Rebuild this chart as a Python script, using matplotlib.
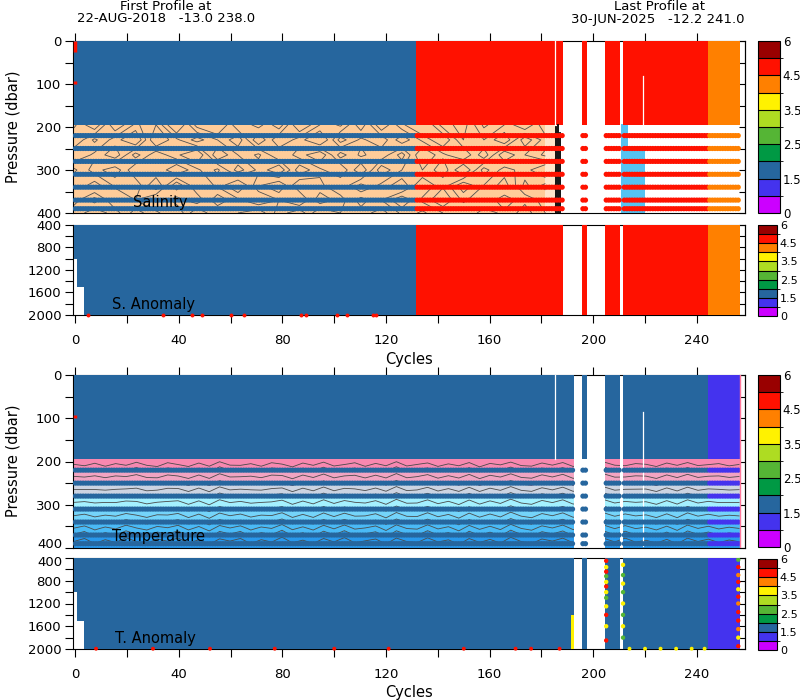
import numpy as np
import matplotlib
matplotlib.use('Agg')
import matplotlib.pyplot as plt
from matplotlib.colors import ListedColormap, BoundaryNorm
from matplotlib.ticker import MultipleLocator, FuncFormatter
import matplotlib.colorbar as mcolorbar

plt.rcParams['font.family'] = ['DejaVu Sans']

W, H = 800, 700

# ------------------------------------------------------------------ data
n_cycles = 257
flag_colors = ['#CC00FF', '#4433EE', '#26669E', '#009944', '#55B535',
               '#AEDC22', '#FFF200', '#FF8000', '#FF1100', '#990000']
flag_tick_pos = [0, 2, 4, 6, 8, 10]
flag_tick_labels = ['0', '1.5', '2.5', '3.5', '4.5', '6']

sal_flag_starts = [0, 132, 245]
sal_flag_codes = [2, 8, 7]
temp_flag_starts = [0, 245]
temp_flag_codes = [2, 1]
sal_gap_first = [189, 198, 211]
sal_gap_last = [195, 204, 211]
temp_gap_first = [193, 198, 211]
temp_gap_last = [195, 204, 211]

anom_limit_first_cycle = [0, 1, 4]
anom_limit_depth = [1000, 1500, 2000]

dense_bottom = 195
std_levels = [220, 250, 280, 310, 340, 370, 390]

# cycle-0 bad points (depth ranges)
sal_c0_bad_top = [0, 93]
sal_c0_bad_bot = [25, 100]
temp_c0_bad_top = [93]
temp_c0_bad_bot = [100]

# thin white lines in the dense block
thin_gap_cycle = 185.3
partial_gap_cycle = 219.4
sal_partial_gap_top = 82
temp_partial_gap_top = 85

# salinity background (lower region)
sal_bg_start = [-0.5, 181.5]
sal_bg_end = [181.5, 185.5]
sal_bg_colors = ['#FFCC99', '#FFE6CC']
sal_patch_start = [210.6, 213.5]
sal_patch_end = [213.4, 220.0]
sal_patch_top = [192, 245]
sal_black_cycles = [185.8, 186.5, 187.3]
sal_black_top = [200, 196, 215]

# salinity contour field (coarse)
sal_cnt_depths = [195, 230, 265, 300, 335, 370, 400]
sal_cnt_field = [
    [34.71, 34.62, 34.78, 34.69, 34.74, 34.60, 34.76, 34.81, 34.66, 34.72, 34.63, 34.79,
     34.70, 34.65, 34.77, 34.62, 34.73, 34.80, 34.68, 34.64, 34.75, 34.70, 34.61, 34.74],
    [34.66, 34.75, 34.68, 34.61, 34.79, 34.71, 34.64, 34.70, 34.77, 34.62, 34.74, 34.68,
     34.60, 34.76, 34.69, 34.73, 34.63, 34.71, 34.78, 34.66, 34.70, 34.62, 34.77, 34.68],
    [34.74, 34.69, 34.63, 34.76, 34.67, 34.73, 34.79, 34.62, 34.70, 34.75, 34.66, 34.72,
     34.78, 34.64, 34.71, 34.67, 34.76, 34.61, 34.69, 34.74, 34.63, 34.78, 34.70, 34.65],
    [34.65, 34.72, 34.77, 34.66, 34.70, 34.62, 34.69, 34.75, 34.64, 34.71, 34.78, 34.63,
     34.69, 34.74, 34.62, 34.77, 34.70, 34.66, 34.73, 34.61, 34.76, 34.68, 34.72, 34.79],
    [34.70, 34.64, 34.71, 34.73, 34.62, 34.77, 34.66, 34.71, 34.79, 34.67, 34.62, 34.74,
     34.71, 34.66, 34.75, 34.69, 34.63, 34.74, 34.67, 34.77, 34.70, 34.64, 34.75, 34.69],
    [34.68, 34.76, 34.66, 34.70, 34.75, 34.68, 34.73, 34.63, 34.69, 34.74, 34.70, 34.65,
     34.77, 34.72, 34.64, 34.70, 34.78, 34.69, 34.62, 34.71, 34.66, 34.73, 34.67, 34.72],
    [34.73, 34.67, 34.72, 34.64, 34.69, 34.74, 34.62, 34.70, 34.66, 34.63, 34.72, 34.77,
     34.66, 34.70, 34.68, 34.64, 34.71, 34.75, 34.70, 34.66, 34.72, 34.69, 34.64, 34.70],
]
sal_cnt_levels = [34.66, 34.70, 34.74]

# temperature field (lower region)
temp_depths = [195, 218, 250, 278, 309, 339, 366, 400]
temp_values = [27, 25, 23, 21, 19, 17, 15, 13]
temp_fill_colors = ['#2898EC', '#4ABAF6', '#74D4FA', '#A4F1FF',
                    '#CCD4E2', '#F2A4C2', '#F888B0']
temp_line_levels = [14, 15, 16, 17, 18, 19, 20, 21, 22, 23, 24, 25, 26]
temp_wig_up = [0, 4, -3, 5, -2, 3, -5, 2, 6, -4, 1, 5, -3, 4, -6, 2, 3, -2, 5, -4, 0, 6,
               -3, 2, -5, 4, 1, -4, 5, -2, 3, -6, 4, 0, -3, 5, -1, 3, -4, 6, -2, 1, -5,
               3, 4, -3, 2, -4, 5, -1, 3, -5, 2, 4, -2, 0, 5, -3, 2, -4, 3, 1, -2, 4, 0]
temp_wig_lo = [2, -6, 8, -3, 5, -8, 3, 7, -5, 2, -7, 6, -2, 9, -4, 1, -6, 8, -3, 4, -9, 5,
               -1, 7, -5, 3, -8, 6, 0, -4, 8, -6, 2, 5, -7, 3, -2, 9, -5, 4, -3, 6, -8,
               2, 7, -4, 1, -6, 5, -2, 8, -5, 3, -7, 4, -1, 6, -3, 8, -6, 2, -4, 5, -2, 3]

# anomaly extras
s_anom_bottom_bad = [5, 34, 45, 49, 60, 65, 87, 89, 101, 105, 115, 116]
t_anom_bottom_cycles = [8, 30, 52, 77, 100, 121, 150, 170, 176, 187, 214, 220, 226, 232, 238, 243]
t_anom_bottom_codes = [8, 8, 8, 8, 8, 8, 8, 8, 8, 8, 6, 6, 6, 6, 6, 6]
t_anom_dot_cycles = [205] * 12 + [211.5] * 8 + [256] * 12
t_anom_dot_depths = [450, 560, 640, 720, 820, 900, 1000, 1100, 1250, 1400, 1600, 1850,
                     520, 700, 850, 1000, 1200, 1400, 1600, 1800,
                     430, 560, 700, 820, 950, 1080, 1200, 1350, 1500, 1650, 1800, 1950]
t_anom_dot_codes = [8, 6, 8, 4, 6, 8, 6, 4, 6, 8, 6, 8,
                    6, 4, 6, 4, 6, 4, 6, 4,
                    4, 8, 7, 8, 6, 8, 7, 8, 8, 7, 6, 8]
t_anom_yellow_cycle = 192
t_anom_yellow_top = 1400

# ------------------------------------------------------------------ helpers
cmap = ListedColormap(flag_colors)
norm = BoundaryNorm(np.arange(11), cmap.N)
cycles = np.arange(n_cycles)
xedges = np.arange(n_cycles + 1) - 0.5


def build_codes(starts, codes, gfirst, glast):
    arr = np.full(n_cycles, np.nan)
    for s, c in zip(starts, codes):
        arr[s:] = c + 0.5
    for a, b in zip(gfirst, glast):
        arr[a:b + 1] = np.nan
    return arr


sal_codes = build_codes(sal_flag_starts, sal_flag_codes, sal_gap_first, sal_gap_last)
temp_codes = build_codes(temp_flag_starts, temp_flag_codes, temp_gap_first, temp_gap_last)

anom_limit = np.full(n_cycles, np.nan)
for s, d in zip(anom_limit_first_cycle, anom_limit_depth):
    anom_limit[s:] = d

fig = plt.figure(figsize=(W / 100, H / 100), dpi=100)


def px_axes(l, t, r, b):
    return fig.add_axes([l / W, 1 - b / H, (r - l) / W, (b - t) / H])


def ftext(x, y, s, **kw):
    fig.text(x / W, 1 - y / H, s, **kw)


def style_axis(ax, ymin, ymax, ymaj, ymin_step, top_ticks, bottom_ticks, skip=None):
    ax.set_xlim(-0.9, 258.6)
    ax.set_ylim(ymax, ymin)
    for s in ax.spines.values():
        s.set_linewidth(0.8)
    ax.xaxis.set_major_locator(MultipleLocator(40))
    ax.xaxis.set_minor_locator(MultipleLocator(20))
    ax.yaxis.set_major_locator(MultipleLocator(ymaj))
    ax.yaxis.set_minor_locator(MultipleLocator(ymin_step))
    ax.yaxis.set_major_formatter(
        FuncFormatter(lambda v, p: '' if skip is not None and abs(v - skip) < 1e-6 else '%d' % v))
    ax.tick_params(axis='x', which='both', direction='out', length=5.5, width=0.8,
                   top=top_ticks, bottom=bottom_ticks, labeltop=False,
                   labelbottom=bottom_ticks, labelsize=9.5, pad=8)
    ax.tick_params(axis='y', which='both', direction='out', length=5.5, width=0.8,
                   left=True, right=False, labelsize=9.5, pad=3)
    sec = ax.secondary_yaxis('right')
    sec.yaxis.set_major_locator(MultipleLocator(ymin_step))
    sec.tick_params(axis='y', which='both', direction='in', length=4, width=0.8,
                    labelright=False)
    sec.spines['right'].set_linewidth(0.8)


def draw_dense_block(ax, codes):
    C = np.ma.masked_invalid(codes[None, :])
    ax.pcolormesh(xedges, [0, dense_bottom], C, cmap=cmap, norm=norm,
                  shading='flat', zorder=3)


def draw_stripes(ax, codes):
    ok = ~np.isnan(codes)
    for lev in std_levels:
        ax.scatter(cycles[ok], np.full(ok.sum(), lev), c=codes[ok], cmap=cmap,
                   norm=norm, s=14, marker='o', linewidths=0, zorder=6)


def draw_anom(ax, codes):
    dedges = np.arange(400, 2001, 50)
    dmid = 0.5 * (dedges[:-1] + dedges[1:])
    C = np.tile(codes, (len(dmid), 1))
    C[dmid[:, None] > anom_limit[None, :]] = np.nan
    ax.pcolormesh(xedges, dedges, np.ma.masked_invalid(C), cmap=cmap, norm=norm,
                  shading='flat', zorder=3)


# ------------------------------------------------------------------ axes
ax1 = px_axes(73, 41, 745, 213)
ax2 = px_axes(73, 225, 745, 315)
ax3 = px_axes(73, 375, 745, 548)
ax4 = px_axes(73, 558, 745, 649)

# ---------------- Salinity
draw_dense_block(ax1, sal_codes)
for a, b, col in zip(sal_bg_start, sal_bg_end, sal_bg_colors):
    ax1.fill_between([a, b], dense_bottom, 400, color=col, linewidth=0, zorder=1)
for a, b, t in zip(sal_patch_start, sal_patch_end, sal_patch_top):
    ax1.fill_between([a, b], t, 400, color='#55C3F2', linewidth=0, zorder=1.5)
scx = np.linspace(sal_bg_start[0], sal_bg_end[0], len(sal_cnt_field[0]))
ax1.contour(scx, sal_cnt_depths, np.array(sal_cnt_field), levels=sal_cnt_levels,
            colors='#505050', linewidths=0.6, zorder=2)
for c, t in zip(sal_black_cycles, sal_black_top):
    ax1.plot([c, c], [t, 400], color='black', lw=1.3, zorder=5)
draw_stripes(ax1, sal_codes)
for t, b in zip(sal_c0_bad_top, sal_c0_bad_bot):
    ax1.plot([0, 0], [t, b], color=flag_colors[8], lw=2.5, zorder=7, solid_capstyle='butt')
ax1.plot([thin_gap_cycle] * 2, [0, dense_bottom], color='white', lw=0.9, zorder=4)
ax1.plot([partial_gap_cycle] * 2, [sal_partial_gap_top, dense_bottom], color='white',
         lw=0.9, zorder=4)
style_axis(ax1, 0, 400, 100, 50, True, False)

# ---------------- S. Anomaly
draw_anom(ax2, sal_codes)
ax2.scatter(s_anom_bottom_bad, [1995] * len(s_anom_bottom_bad), color=flag_colors[8],
            s=8, linewidths=0, zorder=6, clip_on=False)
style_axis(ax2, 400, 2000, 400, 200, False, True)

# ---------------- Temperature
draw_dense_block(ax3, temp_codes)
tx = np.linspace(-0.5, 256.5, len(temp_wig_up))
tdep = np.linspace(dense_bottom, 400, 60)
frac = (tdep - dense_bottom) / (400 - dense_bottom)
wig = np.array(temp_wig_up)[None, :] * (1 - frac[:, None]) + \
    np.array(temp_wig_lo)[None, :] * frac[:, None]
field = np.interp(tdep[:, None] - wig, temp_depths, temp_values)
ax3.contourf(tx, tdep, field, levels=temp_values[::-1], colors=temp_fill_colors,
             zorder=1, extend='both')
ax3.contour(tx, tdep, field, levels=temp_line_levels, colors='#4a4a4a',
            linewidths=0.6, zorder=2)
gap_lo = [temp_gap_first[0] - 0.5, temp_gap_first[2] - 0.5]
gap_hi = [temp_gap_last[1] + 0.5, temp_gap_last[2] + 0.5]
for a, b in zip(gap_lo, gap_hi):
    ax3.fill_between([a, b], dense_bottom, 400, color='white', linewidth=0, zorder=2.5)
ax3.plot([partial_gap_cycle] * 2, [temp_partial_gap_top, 395], color='white',
         lw=0.9, zorder=4)
draw_stripes(ax3, temp_codes)
for t, b in zip(temp_c0_bad_top, temp_c0_bad_bot):
    ax3.plot([0, 0], [t, b], color=flag_colors[8], lw=2.5, zorder=7, solid_capstyle='butt')
ax3.plot([thin_gap_cycle] * 2, [0, dense_bottom], color='white', lw=0.9, zorder=4)
ax3.plot([256.5, 256.5], [0, 400], color='#FF7799', lw=1, zorder=7)
style_axis(ax3, 0, 400, 100, 50, True, False, skip=400)

# ---------------- T. Anomaly
draw_anom(ax4, temp_codes)
ax4.fill_between([t_anom_yellow_cycle - 0.5, t_anom_yellow_cycle + 0.5],
                 t_anom_yellow_top, 2000, color=flag_colors[6], linewidth=0, zorder=4)
ax4.scatter(t_anom_dot_cycles, t_anom_dot_depths,
            c=[flag_colors[k] for k in t_anom_dot_codes], s=10, linewidths=0, zorder=6)
ax4.scatter(t_anom_bottom_cycles, [1995] * len(t_anom_bottom_cycles),
            c=[flag_colors[k] for k in t_anom_bottom_codes], s=8, linewidths=0,
            zorder=6, clip_on=False)
style_axis(ax4, 400, 2000, 400, 200, False, True, skip=400)

# ---------------- colorbars
for (l, t, r, b, fs) in [(758, 41, 780, 213, 8.5), (758, 225, 777, 316, 8),
                         (758, 375, 780, 547, 8.5), (758, 559, 777, 650, 8)]:
    cax = px_axes(l, t, r, b)
    cb = mcolorbar.ColorbarBase(cax, cmap=cmap, norm=norm, boundaries=np.arange(11),
                                ticks=flag_tick_pos, drawedges=True)
    cb.set_ticklabels(flag_tick_labels)
    cb.outline.set_linewidth(0.8)
    cb.dividers.set_linewidth(0.8)
    cax.tick_params(length=0, labelsize=fs, pad=2)

# ---------------- labels
ftext(166, 7, 'First Profile at', ha='center', va='center', fontsize=9.5)
ftext(166, 19, '22-AUG-2018   -13.0 238.0', ha='center', va='center', fontsize=9.5)
ftext(660, 7, 'Last Profile at', ha='center', va='center', fontsize=9.5)
ftext(658, 19, '30-JUN-2025   -12.2 241.0', ha='center', va='center', fontsize=9.5)
ftext(13, 127, 'Pressure (dbar)', ha='center', va='center', rotation=90, fontsize=10.5)
ftext(13, 461, 'Pressure (dbar)', ha='center', va='center', rotation=90, fontsize=10.5)
ftext(409, 359, 'Cycles', ha='center', va='center', fontsize=10.5)
ftext(409, 692, 'Cycles', ha='center', va='center', fontsize=10.5)
ftext(160, 202, 'Salinity', ha='center', va='center', fontsize=10.5)
ftext(153, 305, 'S. Anomaly', ha='center', va='center', fontsize=10.5)
ftext(159, 536, 'Temperature', ha='center', va='center', fontsize=10.5)
ftext(155, 639, 'T. Anomaly', ha='center', va='center', fontsize=10.5)
# the two stacked "400" labels between the temperature panels
ftext(63, 545, '400', ha='right', va='center', fontsize=9.5)
ftext(63, 562, '400', ha='right', va='center', fontsize=9.5)

fig.savefig('out.png', dpi=100)
